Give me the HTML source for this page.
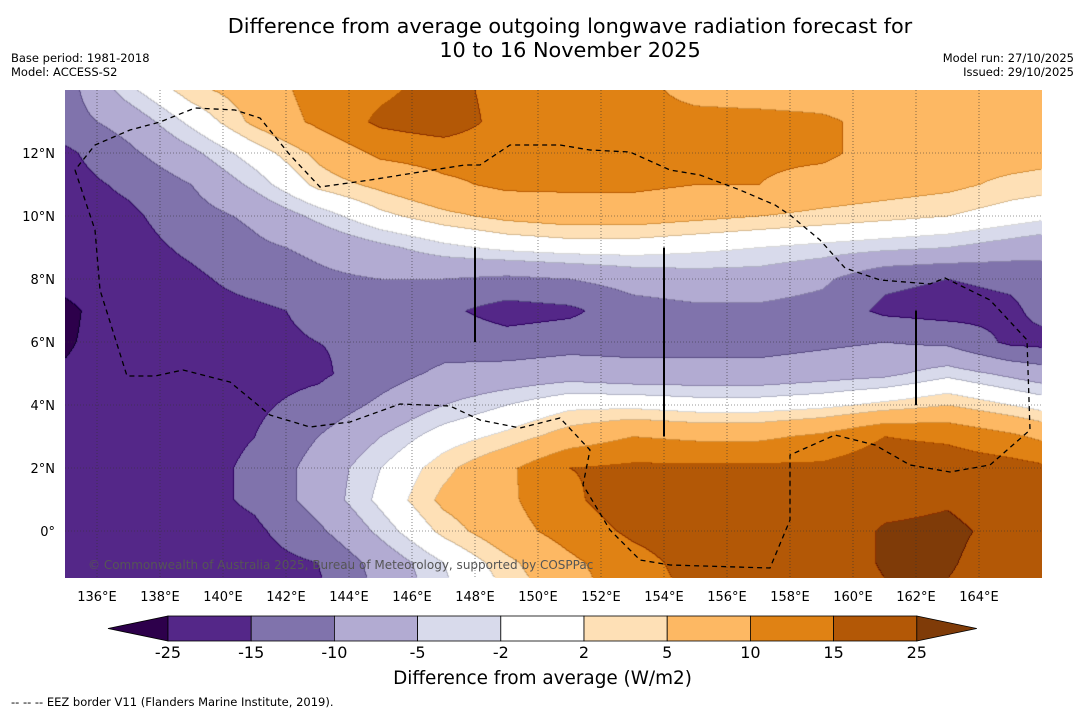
<!DOCTYPE html>
<html><head><meta charset="utf-8">
<style>
body{margin:0;background:#fff;width:1085px;height:713px;position:relative;overflow:hidden;font-family:"DejaVu Sans","Liberation Sans",sans-serif;color:#000}
.t{position:absolute;white-space:nowrap}
</style></head>
<body>
<div class="t" style="left:0;width:1140px;text-align:center;top:14px;font-size:20.8px;line-height:24px">Difference from average outgoing longwave radiation forecast for<br>10 to 16 November 2025</div>
<div class="t" style="left:11px;top:51px;font-size:11.5px;line-height:14px">Base period: 1981-2018<br>Model: ACCESS-S2</div>
<div class="t" style="right:11px;top:51px;font-size:11.5px;line-height:14px;text-align:right">Model run: 27/10/2025<br>Issued: 29/10/2025</div>
<canvas id="map" width="977" height="488" style="position:absolute;left:65px;top:90px"></canvas>
<svg id="ov" width="1085" height="713" style="position:absolute;left:0;top:0"></svg>
<div class="t" style="left:88px;top:558px;font-size:12px;color:#555">© Commonwealth of Australia 2025, Bureau of Meteorology, supported by COSPPac</div>
<div class="t" style="left:0;width:1085px;text-align:center;top:668px;font-size:18.4px">Difference from average (W/m2)</div>
<div class="t" style="left:11px;top:695px;font-size:11.5px">--  --  -- EEZ border V11 (Flanders Marine Institute, 2019).</div>
<script>
const lons=[135,137,139,141,143,145,147,149,151,153,155,157,159,161,163,165,167];
const lats=[14,13,12,11,10,9,8,7,6,5,4,3,2,1,0,-1,-2];
const row14=[-12,-3,4,7,12,14,17,13,12,12,8,7,7,7,7,7,7];
const row13=[-12,-8,-1,6,11,16,18,13,12,12,12,12,11,8,7,7,7];
const row12=[-16,-11,-6,0,6,11,12,12,12,12,12,11,11,8,7,7,6];
const row11=[-17,-14,-10,-4,3,6,9,11,11,11,10,10,8,7,6,4,3];
const row10=[-18,-16,-12,-9,-4,1,4,6,7,7,6,5,4,3,2,0,-2];
const row9=[-18,-17,-14,-11,-9,-6,-3,-1,0,0,-1,-2,-3,-4,-5,-7,-9];
const row8=[-22,-18,-16,-13,-11,-10,-10,-11,-10,-8,-7,-7,-9,-14,-15,-14,-12];
const row7=[-27,-19,-17,-16,-14,-12,-14,-17,-16,-12,-11,-11,-12,-16,-17,-16,-11];
const row6=[-26,-20,-18,-16,-15,-14,-12,-13,-12,-12,-12,-12,-11,-10,-11,-16,-17];
const row5=[-24,-20,-18,-17,-16,-12,-9,-8,-7,-8,-8,-8,-7,-6,-3,-6,-9];
const row4=[-22,-20,-18,-16,-13,-9,-5,-2,1,1,0,0,1,3,5,2,-1];
const row3=[-20,-19,-17,-15,-10,-5,0,3,7,10,9,9,11,15,14,11,7];
const row2=[-20,-19,-17,-14,-8,-2,4,9,15,16,16,16,16,18,18,17,15];
const row1=[-20,-19,-17,-14,-8,-1,6,9,14,18,18,18,19,22,24,20,18];
const row0=[-20,-19,-18,-16,-11,-4,3,8,12,16,18,18,19,26,27,22,18];
const rowM1=[-22,-20,-19,-17,-15,-8,-2,4,9,13,17,18,19,26,26,20,18];
const rowM2=[-22,-21,-20,-18,-16,-9,-3,2,8,12,16,18,19,24,24,20,18];
const grid=[row14,row13,row12,row11,row10,row9,row8,row7,row6,row5,row4,row3,row2,row1,row0,rowM1,rowM2];
const levels=[-25,-15,-10,-5,-2,2,5,10,15,25];
const colors=['#2d004b','#542788','#8073ac','#b2abd2','#d8daeb','#ffffff','#fee0b6','#fdb863','#e08214','#b35806','#7f3b08'];
const tickLons=[136,138,140,142,144,146,148,150,152,154,156,158,160,162,164];
const tickLats=[12,10,8,6,4,2,0];

const X0=65,Y0=90,W=977,H=488;
const xOf=lon=>97+(lon-136)*31.5;
const yOf=lat=>531-lat*31.5;
function hex(c){return [parseInt(c.substr(1,2),16),parseInt(c.substr(3,2),16),parseInt(c.substr(5,2),16)];}
const rgb=colors.map(hex);
function val(lon,lat){
  let fi=(lon-lons[0])/(lons[1]-lons[0]);let fj=(lats[0]-lat)/(lats[0]-lats[1]);
  fi=Math.max(0,Math.min(lons.length-1.001,fi));fj=Math.max(0,Math.min(lats.length-1.001,fj));
  const i=Math.floor(fi),j=Math.floor(fj),a=fi-i,b=fj-j;
  return grid[j][i]*(1-a)*(1-b)+grid[j][i+1]*a*(1-b)+grid[j+1][i]*(1-a)*b+grid[j+1][i+1]*a*b;
}
function band(v){let k=0;while(k<levels.length&&v>=levels[k])k++;return k;}
const cv=document.getElementById('map'),ctx=cv.getContext('2d');
const img=ctx.createImageData(W,H);
for(let py=0;py<H;py++){const lat=(531-(py+Y0))/31.5;
 for(let px=0;px<W;px++){const lon=136+(px+X0-97)/31.5;
  const k=band(val(lon,lat));const c=rgb[k];const o=(py*W+px)*4;
  img.data[o]=c[0];img.data[o+1]=c[1];img.data[o+2]=c[2];img.data[o+3]=255;}}
for(let py=0;py<H-1;py++)for(let px=0;px<W-1;px++){const o=(py*W+px)*4;
 if(img.data[o]!==img.data[o+4]||img.data[o]!==img.data[o+W*4]){img.data[o]=Math.max(0,img.data[o]-40);img.data[o+1]=Math.max(0,img.data[o+1]-40);img.data[o+2]=Math.max(0,img.data[o+2]-40);}}
ctx.putImageData(img,0,0);

const NS='http://www.w3.org/2000/svg',ov=document.getElementById('ov');
function mk(tag,at,txt){const e=document.createElementNS(NS,tag);for(const k in at)e.setAttribute(k,at[k]);if(txt!==undefined)e.textContent=txt;ov.appendChild(e);return e;}
tickLons.forEach(l=>{const x=xOf(l);
 const g=mk('line',{x1:x,x2:x,y1:Y0,y2:Y0+H,stroke:'#333','stroke-width':0.6,'stroke-dasharray':'1,2'});
 
 
 const t=mk('text',{x:x,y:601,'font-size':13,'text-anchor':'middle','font-family':'DejaVu Sans'},l+'°E');
 
 });
tickLats.forEach(l=>{const y=yOf(l);
 const g=mk('line',{x1:X0,x2:X0+W,y1:y,y2:y,stroke:'#333','stroke-width':0.6,'stroke-dasharray':'1,2'});
 
 
 const t=mk('text',{x:55,y:y+5,'font-size':13,'text-anchor':'end','font-family':'DejaVu Sans'},l===0?'0°':l+'°N');
 
 });
const eez=[[75,170],[95,230],[100,290],[127,376],[155,376],[183,370],[230,382],[270,415],[310,427],[350,422],[400,404],[450,406],[480,420],[520,428],[560,418],[590,450],[583,485],[610,530],[640,560],[670,565],[770,568],[790,520],[790,455],[835,435],[875,445],[910,465],[950,472],[990,465],[1030,430],[1027,340],[990,300],[945,278],[930,284],[880,280],[845,268],[820,240],[790,215],[775,205],[740,190],[700,175],[670,170],[630,152],[590,150],[560,145],[510,145],[480,165],[465,165],[420,172],[370,180],[320,187],[290,155],[260,118],[235,110],[195,108],[160,122],[130,130],[95,145],[75,170]];
const ez=mk('polyline',{points:eez.map(p=>p.join(',')).join(' '),fill:'none',stroke:'#000','stroke-width':1.3,'stroke-dasharray':'5,4'});


[[148,9,6],[154,9,3],[162,7,4]].forEach(s=>{const l=mk('line',{x1:xOf(s[0]),x2:xOf(s[0]),y1:yOf(s[1]),y2:yOf(s[2]),stroke:'#000','stroke-width':2});
 
 });
const cbY=616,cbH=25,cbX=168,segW=83.2;
const lt=mk('polygon',{points:`108,${cbY+cbH/2} ${cbX},${cbY} ${cbX},${cbY+cbH}`,fill:colors[0],stroke:'#000','stroke-width':0.8});


for(let k=1;k<colors.length-1;k++){const r=mk('rect',{x:cbX+(k-1)*segW,y:cbY,width:segW,height:cbH,fill:colors[k],stroke:'#000','stroke-width':0.8});
 
 }
const ex=cbX+9*segW;
const rt=mk('polygon',{points:`${ex},${cbY} ${ex+60},${cbY+cbH/2} ${ex},${cbY+cbH}`,fill:colors[10],stroke:'#000','stroke-width':0.8});


levels.forEach((v,k)=>{const t=mk('text',{x:cbX+k*segW,y:658,'font-size':16,'text-anchor':'middle','font-family':'DejaVu Sans'},String(v));
 
 });
</script>
</body></html>
